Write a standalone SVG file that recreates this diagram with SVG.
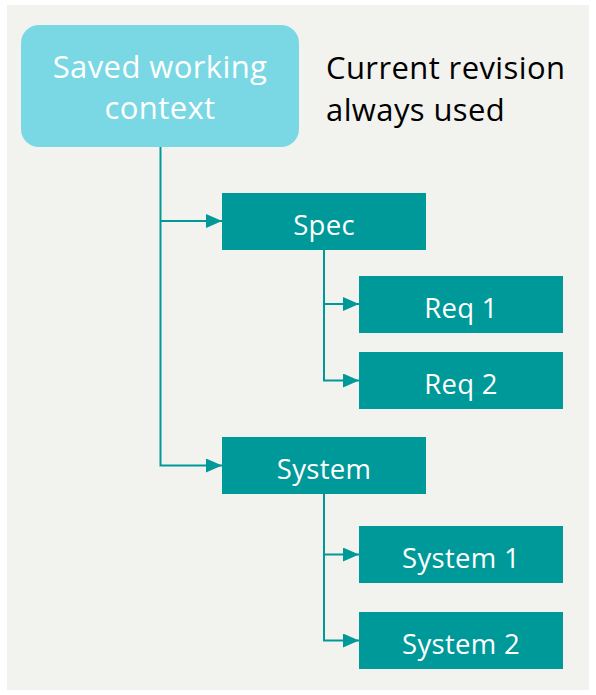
<svg xmlns="http://www.w3.org/2000/svg" width="596" height="695" viewBox="0 0 596 695">
<defs>
<style>
.box{fill:#009999}
.lbl{font-family:"Open Sans","Noto Sans",sans-serif;font-size:27.5px;fill:#ffffff;text-anchor:middle;letter-spacing:0.3px}
.big{font-family:"Open Sans","Noto Sans",sans-serif;font-size:31px;letter-spacing:0.4px}
.conn{fill:none;stroke:#009999;stroke-width:2}
</style>
<marker id="arr" viewBox="0 0 16 14" refX="16" refY="7" markerWidth="16" markerHeight="14" markerUnits="userSpaceOnUse" orient="auto">
<path d="M0,0 L16,7 L0,14 Z" fill="#009999"/>
</marker>
</defs>
<rect x="0" y="0" width="596" height="695" fill="#ffffff"/>
<rect x="7" y="5" width="582" height="685" fill="#f2f2ee"/>
<g id="connectors">
<path class="conn" d="M160.5,147 V465.5 H222" marker-end="url(#arr)"/>
<path class="conn" d="M160.5,221 H222" marker-end="url(#arr)"/>
<path class="conn" d="M324,250 V380.5 H359" marker-end="url(#arr)"/>
<path class="conn" d="M324,304 H359" marker-end="url(#arr)"/>
<path class="conn" d="M324,494 V640.5 H359" marker-end="url(#arr)"/>
<path class="conn" d="M324,554.5 H359" marker-end="url(#arr)"/>
</g>
<g id="saved">
<rect x="21" y="25" width="278" height="122" rx="18" fill="#7ad8e5"/>
<text class="big" x="160" y="78" fill="#ffffff" text-anchor="middle">Saved working</text>
<text class="big" x="160" y="119" fill="#ffffff" text-anchor="middle">context</text>
</g>
<g id="note">
<text class="big" x="326" y="79" fill="#000000">Current revision</text>
<text class="big" x="326" y="121" fill="#000000">always used</text>
</g>
<g id="spec">
<rect class="box" x="222" y="193" width="204" height="57"/>
<text class="lbl" x="324" y="235">Spec</text>
</g>
<g id="req1">
<rect class="box" x="359" y="276" width="204" height="57"/>
<text class="lbl" x="461" y="318">Req 1</text>
</g>
<g id="req2">
<rect class="box" x="359" y="352" width="204" height="57"/>
<text class="lbl" x="461" y="394">Req 2</text>
</g>
<g id="system">
<rect class="box" x="222" y="437" width="204" height="57"/>
<text class="lbl" x="324" y="479">System</text>
</g>
<g id="system1">
<rect class="box" x="359" y="526" width="204" height="57"/>
<text class="lbl" x="461" y="568">System 1</text>
</g>
<g id="system2">
<rect class="box" x="359" y="612" width="204" height="57"/>
<text class="lbl" x="461" y="654">System 2</text>
</g>
</svg>
